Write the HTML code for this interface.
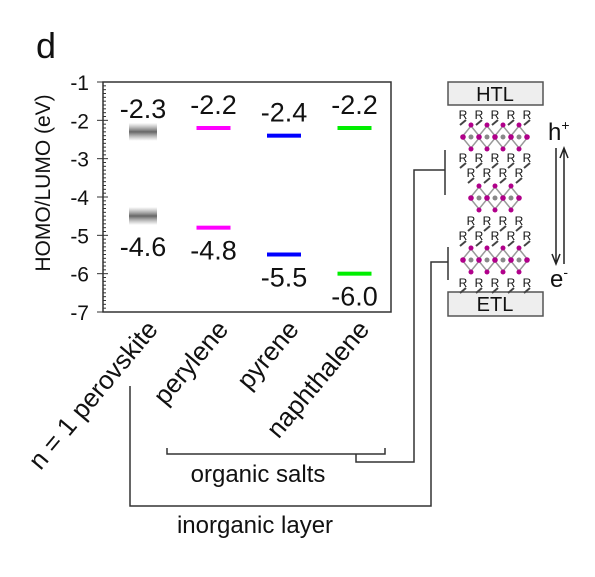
<!DOCTYPE html>
<html><head><meta charset="utf-8"><style>
body{margin:0;background:#fff}
text{font-family:"Liberation Sans",Arial,sans-serif;fill:#111}
</style></head><body>
<svg id="c" width="595" height="572" xmlns="http://www.w3.org/2000/svg">
<defs>
<linearGradient id="gb" x1="0" y1="0" x2="0" y2="1">
<stop offset="0" stop-color="#888" stop-opacity="0"/>
<stop offset="0.5" stop-color="#666"/>
<stop offset="1" stop-color="#888" stop-opacity="0"/>
</linearGradient>
</defs>
<text x="36" y="58" font-size="36">d</text>
<text transform="translate(50,183) rotate(-90)" text-anchor="middle" font-size="21">HOMO/LUMO (eV)</text>
<rect x="103" y="82" width="288" height="230" fill="none" stroke="#333" stroke-width="1.5"/>
<g id="axis"></g>
<g id="marks"></g>
<g id="xlabels"></g>
<g fill="none" stroke="#333" stroke-width="1.5">
<path d="M167,448 V454 H385 V448"/>
<path d="M356,454 V462 H414 V170 H445 M445,150 V195"/>
<path d="M130,386 V506 H431 V262 H448 M448,247 V280"/>
</g>
<text x="258" y="482" text-anchor="middle" font-size="24">organic salts</text>
<text x="255" y="533" text-anchor="middle" font-size="24">inorganic layer</text>
<g>
<rect x="448" y="82" width="95" height="23" fill="#eee" stroke="#555" stroke-width="1.5"/>
<text x="495" y="101" text-anchor="middle" font-size="20">HTL</text>
<rect x="448" y="292" width="95" height="24" fill="#eee" stroke="#555" stroke-width="1.5"/>
<text x="495" y="311" text-anchor="middle" font-size="20">ETL</text>
<g id="struct"></g>
<text x="548" y="140" font-size="24">h<tspan font-size="14" dy="-10">+</tspan></text>
<text x="550" y="287" font-size="24">e<tspan font-size="14" dy="-10">-</tspan></text>
<path d="M556,148 V262 M552,254 L556,264 L560,254" fill="none" stroke="#222" stroke-width="1.5"/>
<path d="M564,264 V150 M560,158 L564,148 L568,158" fill="none" stroke="#222" stroke-width="1.5"/>
</g>
</svg>
<script>
const categories=["n = 1 perovskite","perylene","pyrene","naphthalene"];
const lumo=[-2.3,-2.2,-2.4,-2.2];
const homo=[-4.6,-4.8,-5.5,-6.0];
const lumoLabels=["-2.3","-2.2","-2.4","-2.2"];
const homoLabels=["-4.6","-4.8","-5.5","-6.0"];
const colors=["gray","#ff00ff","#0000ff","#00ee00"];
const yTicks=[-1,-2,-3,-4,-5,-6,-7];
const NS="http://www.w3.org/2000/svg";
const y0=82,y1=312,xl=103,xr=391;
function yS(v){return y0+(-1-v)/6*(y1-y0);}
function xS(i){return 143+i*70.5;}
function mk(t,a,p){const e=document.createElementNS(NS,t);for(const k in a)e.setAttribute(k,a[k]);p.appendChild(e);return e;}
const ax=document.getElementById('axis');
for(let k=0;k<=60;k++){const v=-1-k*0.1;const maj=k%10===0;
 const l=mk('line',{x1:maj?97:xl,x2:xl+(maj?5:3),y1:yS(v),y2:yS(v),stroke:'#333','stroke-width':1},ax);
 
 }
yTicks.forEach(v=>{const t=mk('text',{x:89,y:yS(v)+8,'text-anchor':'end','font-size':21},ax);t.textContent=String(v);
 
 });
const mg=document.getElementById('marks');
categories.forEach((c,i)=>{const x=xS(i);
 [[lumo[i],'lumo'],[homo[i],'homo']].forEach(([v,kind])=>{
  let r;
  if(i===0){r=mk('rect',{x:x-14,y:yS(v)-(kind==='homo'?4:0)-9,width:28,height:18,fill:'url(#gb)'},mg);}
  else{r=mk('rect',{x:x-17,y:yS(v)-2,width:34,height:4,fill:colors[i]},mg);}
  
  });
 const t1=mk('text',{x:x,y:yS(lumo[i])-14,'text-anchor':'middle','font-size':27},mg);t1.textContent=lumoLabels[i];
 
 
 const t2=mk('text',{x:x,y:yS(homo[i])+(i===0?36:32),'text-anchor':'middle','font-size':27},mg);t2.textContent=homoLabels[i];
 
 
});
const xg=document.getElementById('xlabels');
categories.forEach((c,i)=>{const x=xS(i)+16,y=330;
 const t=mk('text',{transform:`translate(${x},${y}) rotate(-50)`,'text-anchor':'end','font-size':26},xg);t.textContent=c;
 
 });
const sg=document.getElementById('struct');
function rrow(y,n){const s=n===5?463:471;for(let j=0;j<n;j++){const t=mk('text',{x:s+j*16,y:y,'font-size':12,'text-anchor':'middle'},sg);t.textContent='R';
 
 
 mk('line',{x1:s+j*16-3,y1:y+6,x2:s+j*16+3,y2:y+1,stroke:'#444','stroke-width':2},sg);}}
function octa(yc,n){const s=n===5?463:471;for(let j=0;j<n;j++){const x=s+j*16+8;if(j<n-1){
 const d=mk('path',{d:`M${x},${yc-11} L${x+9},${yc} L${x},${yc+11} L${x-9},${yc} Z`,fill:'none',stroke:'#999','stroke-width':1.5},sg);
 
 
 mk('circle',{cx:x,cy:yc,r:2.5,fill:'#888'},sg);
 mk('circle',{cx:x,cy:yc-12,r:2.5,fill:'#b0008a'},sg);mk('circle',{cx:x,cy:yc+12,r:2.5,fill:'#b0008a'},sg);}
 mk('circle',{cx:s+j*16,cy:yc,r:2.8,fill:'#b0008a'},sg);}}
rrow(119,5);octa(137,5);rrow(162,5);
rrow(177,4);octa(198,4);rrow(225,4);
rrow(240,5);octa(260,5);rrow(287,5);
</script>
</body></html>
